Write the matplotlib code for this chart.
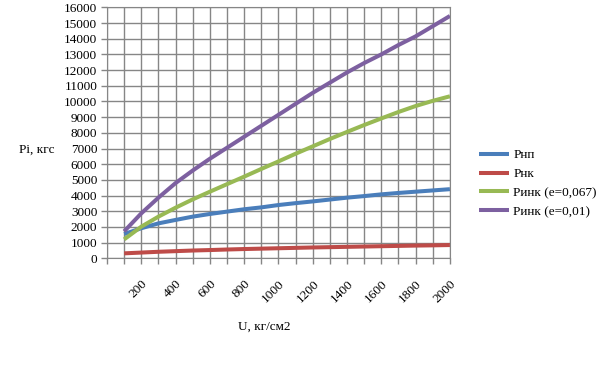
import matplotlib
matplotlib.use('Agg')
import matplotlib.pyplot as plt

# данные
u = [100, 200, 300, 400, 500, 600, 700, 800, 900, 1000,
     1100, 1200, 1300, 1400, 1500, 1600, 1700, 1800, 1900, 2000]
p_np = [1550, 1920, 2230, 2450, 2660, 2830, 2980, 3130, 3250, 3400,
        3520, 3630, 3750, 3870, 3970, 4080, 4170, 4250, 4330, 4410]
p_nk = [320, 370, 420, 460, 500, 530, 565, 595, 620, 645,
        670, 695, 715, 735, 755, 775, 795, 815, 830, 850]
p_ink_067 = [1210, 2020, 2660, 3230, 3760, 4250, 4730, 5210, 5700, 6180,
             6670, 7140, 7610, 8060, 8500, 8920, 9330, 9710, 10040, 10330]
p_ink_01 = [1720, 2870, 3870, 4800, 5600, 6350, 7050, 7750, 8450, 9150,
            9850, 10550, 11200, 11850, 12450, 13000, 13600, 14150, 14800, 15450]

series_names = ['Рнп', 'Рнк', 'Ринк (е=0,067)', 'Ринк (е=0,01)']
colors = ['#4A7EBB', '#BE4B48', '#98B954', '#7D60A0']

plt.rcParams['font.family'] = ['Liberation Serif', 'DejaVu Serif']
plt.rcParams['font.size'] = 9.5

fig = plt.figure(figsize=(6.08, 3.67), dpi=100)
ax = fig.add_axes([0.176, 0.296, 0.564, 0.684])

for vals, name, c in zip([p_np, p_nk, p_ink_067, p_ink_01], series_names, colors):
    ax.plot(u, vals, color=c, linewidth=2.9, label=name, solid_capstyle='butt')

ax.set_xlim(0, 2000)
ax.set_ylim(0, 16000)
ax.set_xticks(range(0, 2001, 100))
ax.set_xticklabels([str(v) if v % 200 == 0 and v > 0 else '' for v in range(0, 2001, 100)],
                   rotation=45, ha='right', rotation_mode='anchor')
ax.set_yticks(range(0, 16001, 1000))

ax.grid(True, color='#868686', linewidth=1.0)
ax.set_axisbelow(True)
for s in ax.spines.values():
    s.set_color('#868686')
ax.tick_params(axis='both', color='#868686', length=4, width=1.0)
ax.tick_params(axis='x', pad=10)
ax.tick_params(axis='y', pad=3)

fig.text(37 / 608, 1 - 150 / 367, 'Pi, кгс', ha='center', va='center')
fig.text(264 / 608, 1 - 327 / 367, 'U, кг/см2', ha='center', va='center')

fig.legend(loc='center left', bbox_to_anchor=(0.788, 0.5), frameon=False,
           borderaxespad=0, borderpad=0, handlelength=2.3, handletextpad=0.3,
           labelspacing=0.5)

fig.savefig('out.png', dpi=100)
